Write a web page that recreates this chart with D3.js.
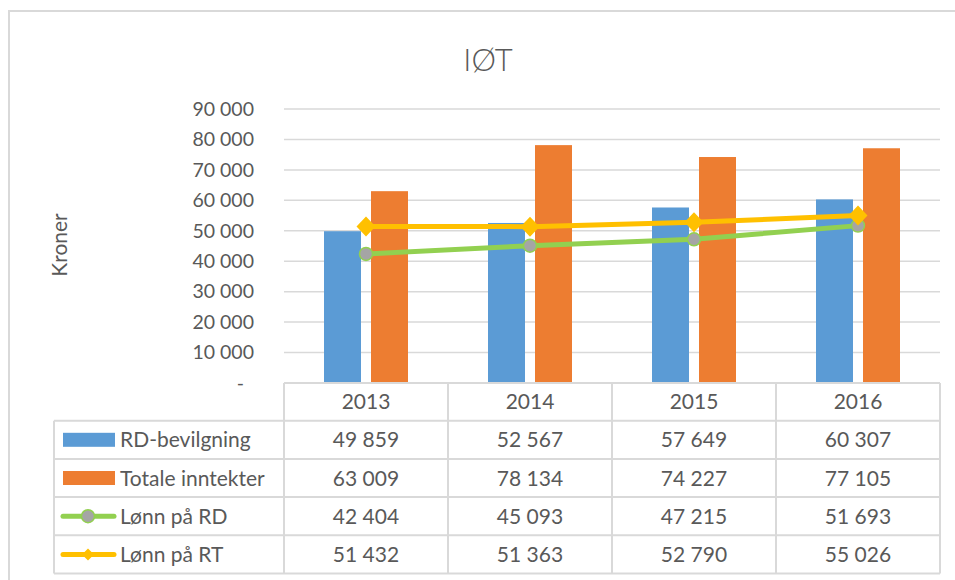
<!DOCTYPE html>
<html><head><meta charset="utf-8">
<script src="https://cdn.jsdelivr.net/npm/d3@7"></script>
<style>body{margin:0;background:#fff}svg{display:block;font-family:Lato,"Open Sans",sans-serif}</style>
</head><body>
<svg id="c" width="955" height="580"></svg>
<script>
const categories = ["2013","2014","2015","2016"];
const rdBevilgning = [49859, 52567, 57649, 60307];
const totaleInntekter = [63009, 78134, 74227, 77105];
const lonnRD = [42404, 45093, 47215, 51693];
const lonnRT = [51432, 51363, 52790, 55026];
const yTicks = [0,10000,20000,30000,40000,50000,60000,70000,80000,90000];
const seriesNames = ["RD-bevilgning","Totale inntekter","Lønn på RD","Lønn på RT"];

const colors = {blue:"#5b9bd5", orange:"#ed7d31", green:"#92d050", yellow:"#ffc000", grey:"#a5a5a5", grid:"#d9d9d9", text:"#595959"};
const svg = d3.select("#c");
const L = 284, R = 940, T = 109, B = 383;
const rowH = 38.2, headerH = 37.7, legL = 54;
const FS = 21;

// outer border
svg.append("rect").attr("x",9).attr("y",11).attr("width",980).attr("height",620)
  .attr("fill","none").attr("stroke",colors.grid).attr("stroke-width",2);

// title
svg.append("text").attr("x",488).attr("y",71).attr("text-anchor","middle")
  .attr("font-size",31).attr("font-weight",300).attr("fill",colors.text).text("IØT");

const x = d3.scaleBand().domain(categories).range([L,R]);
const y = d3.scaleLinear().domain([0,90000]).range([B,T]);
const fmt = v => v === 0 ? "-" : d3.format(",")(v).replace(/,/g," ");

// gridlines
svg.append("g").selectAll("line").data(yTicks.filter(d=>d>0)).join("line")
  .attr("x1",L).attr("x2",R).attr("y1",d=>y(d)).attr("y2",d=>y(d))
  .attr("stroke",colors.grid).attr("stroke-width",1.5);

// y axis labels
const yAxis = d3.axisLeft(y).tickValues(yTicks).tickFormat(fmt).tickSize(0).tickPadding(30);
const ga = svg.append("g").attr("transform",`translate(${L},0)`).call(yAxis);
ga.select(".domain").remove();
ga.selectAll("text").attr("font-size",19.5).attr("fill",colors.text).attr("font-family","Lato,sans-serif")
  .attr("dx",d=>d===0?-10:0);

// y axis title
svg.append("text").attr("transform","translate(67,245) rotate(-90)").attr("text-anchor","middle")
  .attr("font-size",21).attr("fill",colors.text).text("Kroner");

// bars
const xs = d3.scaleBand().domain([0,1]).range([-42,42]).paddingInner(0.213);
const barSeries = [{v:rdBevilgning,c:colors.blue},{v:totaleInntekter,c:colors.orange}];
barSeries.forEach((s,i)=>{
  svg.append("g").selectAll("rect").data(categories).join("rect")
    .attr("x",(d)=>x(d)+x.bandwidth()/2+xs(i)).attr("width",xs.bandwidth())
    .attr("y",(d,j)=>y(s.v[j])).attr("height",(d,j)=>B-y(s.v[j]))
    .attr("fill",s.c);
});

// lines
const cx = d => x(d)+x.bandwidth()/2;
const lineGen = arr => d3.line().x((d,i)=>cx(categories[i])).y(d=>y(d))(arr);
svg.append("path").attr("d",lineGen(lonnRD)).attr("fill","none").attr("stroke",colors.green).attr("stroke-width",5).attr("stroke-linecap","round");
svg.append("path").attr("d",lineGen(lonnRT)).attr("fill","none").attr("stroke",colors.yellow).attr("stroke-width",5).attr("stroke-linecap","round");
svg.append("g").selectAll("circle").data(lonnRD).join("circle")
  .attr("cx",(d,i)=>cx(categories[i])).attr("cy",d=>y(d)).attr("r",6.5)
  .attr("fill",colors.grey).attr("stroke",colors.green).attr("stroke-width",1.5);
const diamond = "M0,-10L9.5,0L0,10L-9.5,0Z";
svg.append("g").selectAll("path").data(lonnRT).join("path")
  .attr("d",diamond).attr("transform",(d,i)=>`translate(${cx(categories[i])},${y(d)})`)
  .attr("fill",colors.yellow);

// data table
const tbl = svg.append("g").attr("stroke",colors.grid).attr("stroke-width",2).attr("fill","none");
const rowsTop = B + headerH;
const bottom = rowsTop + 4*rowH;
tbl.append("line").attr("x1",L).attr("x2",R).attr("y1",B).attr("y2",B);
for(let r=0;r<=4;r++){
  const yy = rowsTop + r*rowH;
  tbl.append("line").attr("x1",legL).attr("x2",R).attr("y1",yy).attr("y2",yy);
}
tbl.append("line").attr("x1",legL).attr("x2",legL).attr("y1",rowsTop).attr("y2",bottom);
categories.forEach(c=>{
  tbl.append("line").attr("x1",x(c)).attr("x2",x(c)).attr("y1",B).attr("y2",bottom);
});
tbl.append("line").attr("x1",R).attr("x2",R).attr("y1",B).attr("y2",bottom);

// header text
svg.append("g").selectAll("text").data(categories).join("text")
  .attr("x",d=>cx(d)).attr("y",B+headerH/2+7.5).attr("text-anchor","middle")
  .attr("font-size",FS).attr("fill",colors.text).text(d=>d);

const tableData = [rdBevilgning,totaleInntekter,lonnRD,lonnRT];
tableData.forEach((vals,r)=>{
  const cy = rowsTop + r*rowH + rowH/2;
  svg.append("g").selectAll("text").data(vals).join("text")
    .attr("x",(d,i)=>cx(categories[i])).attr("y",cy+7.5).attr("text-anchor","middle")
    .attr("font-size",FS).attr("fill",colors.text).text(d=>fmt(d));
  svg.append("text").attr("x",120).attr("y",cy+7.5).attr("font-size",FS).attr("fill",colors.text).text(seriesNames[r]);
  if(r<2){
    svg.append("rect").attr("x",63).attr("y",cy-7).attr("width",52).attr("height",14)
      .attr("fill",r===0?colors.blue:colors.orange);
  } else {
    const lc = r===2?colors.green:colors.yellow;
    svg.append("line").attr("x1",63).attr("x2",114).attr("y1",cy).attr("y2",cy)
      .attr("stroke",lc).attr("stroke-width",5).attr("stroke-linecap","round");
    if(r===2){
      svg.append("circle").attr("cx",88).attr("cy",cy).attr("r",6.5).attr("fill",colors.grey)
        .attr("stroke",colors.green).attr("stroke-width",1.5);
    } else {
      svg.append("path").attr("d","M0,-6L6,0L0,6L-6,0Z").attr("transform",`translate(88,${cy})`).attr("fill",colors.yellow);
    }
  }
});
</script>
</body></html>
